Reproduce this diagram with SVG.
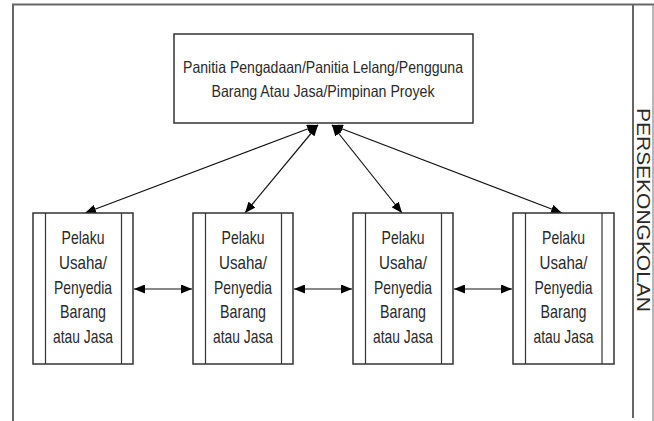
<svg xmlns="http://www.w3.org/2000/svg" width="654" height="421" viewBox="0 0 654 421">
<defs>
<marker id="ah" viewBox="0 0 11 9" refX="11" refY="4.5" markerWidth="11" markerHeight="9" markerUnits="userSpaceOnUse" orient="auto-start-reverse">
<path d="M0,0 L11,4.5 L0,9 z" fill="#000"/>
</marker>
<style>
.frame{fill:none;stroke:#666;stroke-width:2}
.box{fill:#fff;stroke:#333;stroke-width:1.5}
.inner{stroke:#333;stroke-width:1.2}
.t{font-family:"Liberation Sans",Arial,sans-serif;fill:#2a2a2a;text-anchor:middle}
.top{font-size:16.5px}
.bt{font-size:18.5px}
.conn{stroke:#111;stroke-width:1.2;fill:none;marker-start:url(#ah);marker-end:url(#ah)}
</style>
</defs>
<g id="frame">
<path class="frame" d="M13,425 V4.5 H660"/>
<line class="frame" x1="633" y1="4.5" x2="633" y2="418"/>
<line x1="653" y1="4.5" x2="653" y2="421" stroke="#888" stroke-width="1.2"/>
<text class="t" transform="translate(637,210) rotate(90)" font-size="17.5" textLength="204" lengthAdjust="spacingAndGlyphs">PERSEKONGKOLAN</text>
</g>
<g id="connectors">
<line class="conn" x1="318" y1="125" x2="85" y2="213"/>
<line class="conn" x1="318" y1="125" x2="245" y2="213"/>
<line class="conn" x1="332" y1="125" x2="402" y2="213"/>
<line class="conn" x1="332" y1="125" x2="562" y2="213"/>
<line class="conn" x1="134" y1="289" x2="192" y2="289"/>
<line class="conn" x1="294" y1="289" x2="352" y2="289"/>
<line class="conn" x1="454" y1="289" x2="512" y2="289"/>
</g>
<g id="panitia">
<rect class="box" x="174" y="34" width="299" height="89"/>
<text class="t top" x="323" y="72.5" textLength="280" lengthAdjust="spacingAndGlyphs">Panitia Pengadaan/Panitia Lelang/Pengguna</text>
<text class="t top" x="323" y="97" textLength="223" lengthAdjust="spacingAndGlyphs">Barang Atau Jasa/Pimpinan Proyek</text>
</g>
<g id="pelaku1">
<rect class="box" x="33" y="213" width="100" height="151"/>
<line class="inner" x1="45.5" y1="213" x2="45.5" y2="364"/>
<line class="inner" x1="121.5" y1="213" x2="121.5" y2="364"/>
<text class="t bt" x="83" y="244" textLength="43" lengthAdjust="spacingAndGlyphs">Pelaku</text>
<text class="t bt" x="83" y="269" textLength="48" lengthAdjust="spacingAndGlyphs">Usaha/</text>
<text class="t bt" x="83" y="293.5" textLength="58" lengthAdjust="spacingAndGlyphs">Penyedia</text>
<text class="t bt" x="83" y="318" textLength="46" lengthAdjust="spacingAndGlyphs">Barang</text>
<text class="t bt" x="83" y="343" textLength="60" lengthAdjust="spacingAndGlyphs">atau Jasa</text>
</g>
<g id="pelaku2">
<rect class="box" x="193" y="213" width="100" height="151"/>
<line class="inner" x1="205.5" y1="213" x2="205.5" y2="364"/>
<line class="inner" x1="281.5" y1="213" x2="281.5" y2="364"/>
<text class="t bt" x="243" y="244" textLength="43" lengthAdjust="spacingAndGlyphs">Pelaku</text>
<text class="t bt" x="243" y="269" textLength="48" lengthAdjust="spacingAndGlyphs">Usaha/</text>
<text class="t bt" x="243" y="293.5" textLength="58" lengthAdjust="spacingAndGlyphs">Penyedia</text>
<text class="t bt" x="243" y="318" textLength="46" lengthAdjust="spacingAndGlyphs">Barang</text>
<text class="t bt" x="243" y="343" textLength="60" lengthAdjust="spacingAndGlyphs">atau Jasa</text>
</g>
<g id="pelaku3">
<rect class="box" x="353" y="213" width="100" height="151"/>
<line class="inner" x1="365.5" y1="213" x2="365.5" y2="364"/>
<line class="inner" x1="441.5" y1="213" x2="441.5" y2="364"/>
<text class="t bt" x="403" y="244" textLength="43" lengthAdjust="spacingAndGlyphs">Pelaku</text>
<text class="t bt" x="403" y="269" textLength="48" lengthAdjust="spacingAndGlyphs">Usaha/</text>
<text class="t bt" x="403" y="293.5" textLength="58" lengthAdjust="spacingAndGlyphs">Penyedia</text>
<text class="t bt" x="403" y="318" textLength="46" lengthAdjust="spacingAndGlyphs">Barang</text>
<text class="t bt" x="403" y="343" textLength="60" lengthAdjust="spacingAndGlyphs">atau Jasa</text>
</g>
<g id="pelaku4">
<rect class="box" x="513" y="213" width="101" height="151"/>
<line class="inner" x1="525.5" y1="213" x2="525.5" y2="364"/>
<line class="inner" x1="602" y1="213" x2="602" y2="364"/>
<text class="t bt" x="563.5" y="244" textLength="43" lengthAdjust="spacingAndGlyphs">Pelaku</text>
<text class="t bt" x="563.5" y="269" textLength="48" lengthAdjust="spacingAndGlyphs">Usaha/</text>
<text class="t bt" x="563.5" y="293.5" textLength="58" lengthAdjust="spacingAndGlyphs">Penyedia</text>
<text class="t bt" x="563.5" y="318" textLength="46" lengthAdjust="spacingAndGlyphs">Barang</text>
<text class="t bt" x="563.5" y="343" textLength="60" lengthAdjust="spacingAndGlyphs">atau Jasa</text>
</g>
</svg>
